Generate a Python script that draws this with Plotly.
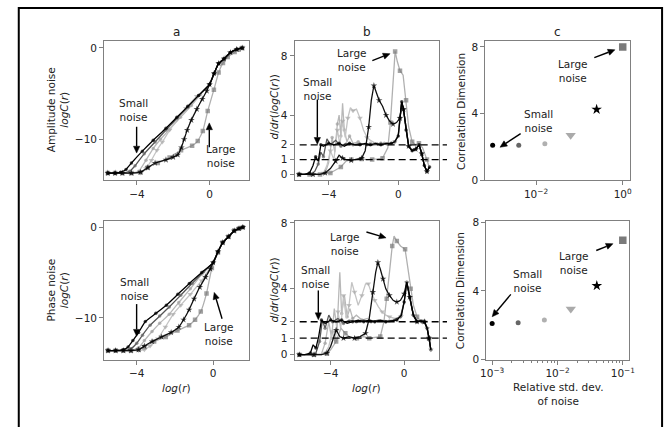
import math
import plotly.graph_objects as go

W, H = 672, 427

# ---------------- data ----------------
# Panel a, amplitude noise: log C(r) versus log(r)
AMP_A_COMMON_X = [0.0, 0.25, 0.5, 0.8, 1.15, 1.5, 1.8]
AMP_A_COMMON_Y = [-4.0, -2.8, -1.7, -1.2, -0.5, -0.15, 0.0]
AMP_A_S1_X = [-5.6, -5.2, -4.9, -4.6, -4.3, -3.7, -3.1, -2.4, -1.8, -1.2, -0.6]
AMP_A_S1_Y = [-13.7, -13.7, -13.6, -13.3, -12.6, -11.3, -10.1, -8.8, -7.6, -6.4, -5.2]
AMP_A_S2_X = [-5.6, -5.2, -4.8, -4.4, -4.1, -3.6, -3.0, -2.4, -1.8, -1.2, -0.6]
AMP_A_S2_Y = [-13.7, -13.7, -13.7, -13.5, -12.9, -11.6, -10.3, -9.0, -7.7, -6.5, -5.2]
AMP_A_S3_X = [-5.6, -5.2, -4.8, -4.4, -3.9, -3.5, -3.1, -2.7, -2.2, -1.6, -1.0, -0.5]
AMP_A_S3_Y = [-13.7, -13.7, -13.7, -13.7, -13.5, -12.3, -11.0, -10.0, -8.9, -7.6, -6.3, -5.1]
AMP_A_S4_X = [-5.6, -5.2, -4.8, -4.3, -3.8, -3.5, -3.2, -2.9, -2.6, -2.2, -1.8, -1.3, -0.7]
AMP_A_S4_Y = [-13.7, -13.7, -13.7, -13.7, -13.7, -13.2, -12.3, -11.2, -10.3, -9.0, -7.8, -6.6, -5.3]
AMP_A_S5_X = [-5.6, -5.2, -4.8, -4.3, -3.8, -3.4, -3.0, -2.4, -2.0, -1.75, -1.55, -1.4, -1.23,
              -1.0, -0.7, -0.4, -0.15]
AMP_A_S5_Y = [-13.7, -13.7, -13.7, -13.7, -13.6, -13.1, -12.6, -12.25, -11.95, -11.7, -10.9,
              -10.0, -9.0, -7.9, -6.7, -5.6, -4.7]
AMP_A_S6_X = [-5.6, -5.2, -4.8, -4.3, -3.8, -3.4, -2.85, -2.2, -1.57, -0.96, -0.65, -0.37, -0.1,
              0.24, 0.5, 0.74, 1.0, 1.38, 1.6, 1.8]
AMP_A_S6_Y = [-13.7, -13.7, -13.7, -13.7, -13.6, -13.1, -12.6, -12.0, -11.2, -10.7, -10.2, -9.1,
              -6.9, -4.57, -2.7, -1.64, -1.0, -0.46, -0.2, 0.0]

# Panel a, phase noise
PH_A_COMMON_X = [0.0, 0.25, 0.5, 0.8, 1.1, 1.35, 1.55]
PH_A_COMMON_Y = [-3.9, -2.7, -1.7, -1.05, -0.4, -0.15, 0.0]
PH_A_S1_X = [-5.5, -5.1, -4.7, -4.45, -4.2, -3.9, -3.55, -3.0, -2.45, -1.85, -1.25, -0.6]
PH_A_S1_Y = [-13.6, -13.6, -13.5, -13.2, -12.5, -11.6, -10.4, -9.5, -8.6, -7.4, -6.2, -5.0]
PH_A_S2_X = [-5.5, -5.1, -4.7, -4.3, -4.0, -3.7, -3.3, -2.8, -2.3, -1.7, -1.1, -0.5]
PH_A_S2_Y = [-13.6, -13.6, -13.6, -13.4, -12.8, -11.9, -10.8, -9.8, -8.8, -7.5, -6.2, -4.9]
PH_A_S3_X = [-5.5, -5.1, -4.7, -4.3, -3.9, -3.6, -3.2, -2.8, -2.3, -1.8, -1.2, -0.6]
PH_A_S3_Y = [-13.6, -13.6, -13.6, -13.6, -13.3, -12.5, -11.5, -10.6, -9.6, -8.3, -6.8, -5.2]
PH_A_S4_X = [-5.5, -5.1, -4.7, -4.3, -3.9, -3.6, -3.3, -2.9, -2.5, -2.1, -1.7, -1.2, -0.6]
PH_A_S4_Y = [-13.6, -13.6, -13.6, -13.6, -13.6, -13.5, -13.1, -12.3, -11.0, -9.6, -8.6, -7.4, -5.9]
PH_A_S5_X = [-5.5, -5.1, -4.7, -4.3, -3.9, -3.6, -3.2, -2.7, -2.2, -1.8, -1.55, -1.26, -1.0,
             -0.7, -0.4, -0.15]
PH_A_S5_Y = [-13.6, -13.6, -13.6, -13.6, -13.5, -13.1, -12.6, -12.1, -11.6, -11.0, -10.2, -9.1,
             -7.9, -6.6, -5.5, -4.6]
PH_A_S6_X = [-5.5, -5.1, -4.7, -4.3, -3.9, -3.6, -3.09, -2.48, -1.87, -1.26, -0.95, -0.65, -0.35,
             -0.07, 0.25, 0.49, 0.8, 1.1, 1.35, 1.55]
PH_A_S6_Y = [-13.6, -13.6, -13.6, -13.6, -13.5, -13.2, -12.6, -12.1, -11.4, -10.8, -10.2, -9.3,
             -7.3, -4.5, -2.8, -1.7, -1.05, -0.36, -0.15, 0.0]

# Panel b, amplitude noise: d/dr(log C(r))
AMP_B_TAIL_X = [0.1, 0.2, 0.3, 0.45, 0.6, 0.8, 1.0, 1.2, 1.35, 1.5, 1.65, 1.8]
AMP_B_TAIL_Y = [3.8, 4.9, 4.4, 3.0, 1.9, 1.6, 1.7, 2.0, 1.4, 0.6, 0.2, 0.5]
AMP_B_S1_X = [-5.7, -5.4, -5.1, -4.9, -4.75, -4.6, -4.45, -4.3, -4.0, -3.7, -3.4, -3.1, -2.8,
              -2.5, -2.2, -1.9, -1.6, -1.3, -1.0, -0.7, -0.4, -0.2, 0.0]
AMP_B_S1_Y = [0, 0, 0.1, 0.6, 1.2, 0.9, 2.0, 1.9, 2.1, 2.0, 2.1, 1.9, 2.1, 2.0, 2.0, 2.1, 2.0,
              2.1, 2.0, 2.1, 2.1, 2.2, 2.6]
AMP_B_S2_X = [-5.7, -5.3, -5.0, -4.8, -4.6, -4.45, -4.3, -4.1, -3.9, -3.6, -3.3, -3.0, -2.6,
              -2.2, -1.8, -1.4, -1.0, -0.6, -0.2, 0.0]
AMP_B_S2_Y = [0, 0, 0, 0.2, 0.7, 1.5, 1.2, 2.4, 2.0, 2.3, 1.9, 2.1, 2.0, 2.1, 2.0, 2.0, 2.1, 2.0,
              2.2, 2.6]
AMP_B_S3_X = [-5.7, -5.3, -4.9, -4.5, -4.2, -4.0, -3.8, -3.65, -3.5, -3.4, -3.3, -3.2, -3.1,
              -2.95, -2.8, -2.6, -2.3, -2.0, -1.6, -1.2, -0.8, -0.4, -0.2, 0.0]
AMP_B_S3_Y = [0, 0, 0, 0, 0.1, 0.8, 2.5, 1.5, 3.4, 4.0, 2.6, 4.8, 3.0, 2.2, 2.6, 2.1, 2.2, 2.0,
              2.1, 2.0, 2.1, 2.05, 2.2, 2.6]
AMP_B_S4_X = [-5.7, -5.3, -4.9, -4.5, -4.3, -4.1, -3.9, -3.7, -3.5, -3.35, -3.2, -3.05, -2.9,
              -2.75, -2.6, -2.4, -2.2, -2.0, -1.8, -1.6, -1.3, -1.0, -0.7, -0.4, -0.2, 0.0]
AMP_B_S4_Y = [0, 0, 0, 0, 0.1, 0.6, 1.6, 1.0, 3.0, 2.0, 3.6, 2.5, 3.8, 4.5, 4.3, 4.4, 3.8, 3.0,
              2.5, 2.3, 2.1, 2.05, 2.1, 2.1, 2.2, 2.7]
AMP_B_S5_X = [-5.7, -5.3, -4.9, -4.5, -4.2, -3.9, -3.6, -3.4, -3.2, -3.0, -2.7, -2.4, -2.1, -1.9,
              -1.7, -1.55, -1.4, -1.25, -1.1, -0.9, -0.7, -0.5, -0.3, -0.1]
AMP_B_S5_Y = [0, 0, 0, 0, 0.1, 0.4, 0.9, 1.3, 1.1, 1.0, 0.95, 1.0, 1.1, 1.6, 3.2, 5.0, 6.0, 5.5,
              5.0, 4.6, 4.0, 3.6, 3.4, 3.5]
AMP_B_S6_X = [-5.7, -5.4, -5.1, -4.8, -4.5, -4.2, -3.9, -3.6, -3.3, -3.0, -2.7, -2.4, -2.1, -1.8,
              -1.5, -1.2, -0.9, -0.6, -0.45, -0.3, -0.18, -0.05, 0.1, 0.28, 0.45, 0.6, 0.8, 1.0,
              1.19, 1.4, 1.65, 1.8]
AMP_B_S6_Y = [0, 0, 0, 0, 0, 0.05, 0.1, 0.3, 0.5, 0.9, 1.0, 1.0, 1.05, 1.0, 1.0, 1.05, 1.1, 1.8,
              3.5, 6.0, 8.3, 7.6, 7.0, 6.7, 5.0, 3.2, 2.2, 2.0, 2.1, 1.8, 1.0, 0.4]

# Panel b, phase noise
PH_B_TAIL_X = [0.14, 0.3, 0.5, 0.7, 0.9, 1.1, 1.25, 1.35, 1.45]
PH_B_TAIL_Y = [4.4, 3.5, 2.4, 2.0, 2.05, 2.0, 1.6, 1.0, 0.3]
PH_B_S1_X = [-5.7, -5.4, -5.1, -4.95, -4.8, -4.65, -4.5, -4.3, -4.0, -3.7, -3.4, -3.1, -2.8,
             -2.5, -2.2, -1.9, -1.6, -1.3, -1.0, -0.7, -0.4, -0.15, 0.0]
PH_B_S1_Y = [0, 0, 0.1, 0.6, 0.4, 1.1, 2.1, 1.9, 2.1, 2.0, 2.1, 1.9, 2.0, 2.1, 2.0, 2.1, 2.0,
             2.1, 2.0, 2.05, 2.1, 2.4, 3.2]
PH_B_S2_X = [-5.7, -5.3, -5.0, -4.8, -4.6, -4.45, -4.3, -4.1, -3.9, -3.6, -3.3, -3.0, -2.6,
             -2.2, -1.8, -1.4, -1.0, -0.6, -0.2, 0.0]
PH_B_S2_Y = [0, 0, 0, 0.1, 0.8, 2.1, 1.6, 2.4, 2.0, 2.2, 1.9, 2.1, 2.0, 2.1, 2.0, 2.1, 2.0, 2.1,
             2.3, 3.2]
PH_B_S3_X = [-5.7, -5.3, -4.9, -4.5, -4.3, -4.1, -3.95, -3.8, -3.65, -3.5, -3.4, -3.25, -3.1,
             -2.95, -2.8, -2.6, -2.3, -2.0, -1.6, -1.2, -0.8, -0.4, -0.15, 0.0]
PH_B_S3_Y = [0, 0, 0, 0.05, 0.7, 2.0, 1.0, 2.8, 1.5, 5.0, 2.5, 3.6, 2.3, 2.8, 2.2, 2.4, 2.1, 2.2,
             2.0, 2.1, 2.05, 2.1, 2.4, 3.2]
PH_B_S4_X = [-5.7, -5.3, -4.9, -4.5, -4.3, -4.1, -3.9, -3.75, -3.6, -3.45, -3.3, -3.15, -3.0,
             -2.85, -2.7, -2.5, -2.3, -2.1, -1.95, -1.8, -1.6, -1.4, -1.2, -1.0, -0.8, -0.5,
             -0.2, 0.0]
PH_B_S4_Y = [0, 0, 0, 0, 0.1, 0.5, 1.4, 0.8, 2.6, 1.6, 3.6, 2.2, 3.0, 4.4, 3.8, 3.0, 3.6, 4.3,
             4.3, 3.8, 3.3, 2.9, 2.6, 2.4, 2.3, 2.2, 2.3, 3.2]
PH_B_S5_X = [-5.7, -5.3, -4.9, -4.5, -4.2, -4.0, -3.7, -3.5, -3.3, -3.0, -2.7, -2.4, -2.1, -1.9,
             -1.7, -1.55, -1.43, -1.3, -1.15, -1.0, -0.8, -0.6, -0.4, -0.2, 0.0]
PH_B_S5_Y = [0, 0, 0, 0, 0.1, 0.5, 1.5, 1.1, 1.0, 1.1, 1.0, 1.1, 1.3, 2.2, 3.8, 5.0, 5.6, 5.2,
             4.6, 4.0, 3.6, 3.3, 3.2, 3.3, 3.7]
PH_B_S6_X = [-5.7, -5.3, -4.9, -4.5, -4.2, -4.0, -3.7, -3.44, -3.2, -2.9, -2.57, -2.2, -1.9,
             -1.6, -1.3, -1.1, -0.95, -0.8, -0.65, -0.55, -0.4, -0.2, 0.05, 0.2, 0.35, 0.5,
             0.7, 0.84, 1.05, 1.25, 1.35, 1.45]
PH_B_S6_Y = [0, 0, 0, 0, 0.05, 0.3, 0.8, 1.6, 1.3, 1.0, 1.0, 1.1, 1.0, 1.05, 1.1, 2.0, 3.4, 5.0,
             6.6, 7.2, 6.9, 6.6, 6.4, 5.2, 4.0, 3.0, 2.3, 2.1, 2.0, 1.7, 1.0, 0.3]

# Panel c: correlation dimension versus relative noise level
C_AMP_NOISE = [0.001, 0.004, 0.016, 0.063, 0.25, 1.0]
C_AMP_DIM = [2.1, 2.1, 2.2, 2.7, 4.25, 8.0]
C_PH_NOISE = [0.001, 0.0025, 0.0063, 0.016, 0.04, 0.1]
C_PH_DIM = [2.1, 2.15, 2.3, 2.95, 4.3, 6.95]

# Reference levels in panel b
B_LEVELS = [1, 2]

# ---------------- styles ----------------
STYLES = [
    dict(sym="circle", mcol="#000000", lcol="#000000", ms=3.5, cs=5),
    dict(sym="circle", mcol="#666666", lcol="#555555", ms=3.5, cs=5),
    dict(sym="circle", mcol="#a0a0a0", lcol="#b8b8b8", ms=3.5, cs=5),
    dict(sym="triangle-down", mcol="#aaaaaa", lcol="#c4c4c4", ms=5, cs=9),
    dict(sym="star", mcol="#000000", lcol="#111111", ms=5, cs=8),
    dict(sym="square", mcol="#7a7a7a", lcol="#b0b0b0", ms=4.5, cs=7.5),
]
DRAW_ORDER = [2, 3, 5, 1, 4, 0]

FONT = "DejaVu Sans"
TXT = "#222222"
SPINE = "#808080"


def P(x, y):
    return x / W, 1 - y / H


fig = go.Figure()

amp_a = [(AMP_A_S1_X + AMP_A_COMMON_X, AMP_A_S1_Y + AMP_A_COMMON_Y),
         (AMP_A_S2_X + AMP_A_COMMON_X, AMP_A_S2_Y + AMP_A_COMMON_Y),
         (AMP_A_S3_X + AMP_A_COMMON_X, AMP_A_S3_Y + AMP_A_COMMON_Y),
         (AMP_A_S4_X + AMP_A_COMMON_X, AMP_A_S4_Y + AMP_A_COMMON_Y),
         (AMP_A_S5_X + AMP_A_COMMON_X, AMP_A_S5_Y + AMP_A_COMMON_Y),
         (AMP_A_S6_X, AMP_A_S6_Y)]
ph_a = [(PH_A_S1_X + PH_A_COMMON_X, PH_A_S1_Y + PH_A_COMMON_Y),
        (PH_A_S2_X + PH_A_COMMON_X, PH_A_S2_Y + PH_A_COMMON_Y),
        (PH_A_S3_X + PH_A_COMMON_X, PH_A_S3_Y + PH_A_COMMON_Y),
        (PH_A_S4_X + PH_A_COMMON_X, PH_A_S4_Y + PH_A_COMMON_Y),
        (PH_A_S5_X + PH_A_COMMON_X, PH_A_S5_Y + PH_A_COMMON_Y),
        (PH_A_S6_X, PH_A_S6_Y)]
amp_b = [(AMP_B_S1_X + AMP_B_TAIL_X, AMP_B_S1_Y + AMP_B_TAIL_Y),
         (AMP_B_S2_X + AMP_B_TAIL_X, AMP_B_S2_Y + AMP_B_TAIL_Y),
         (AMP_B_S3_X + AMP_B_TAIL_X, AMP_B_S3_Y + AMP_B_TAIL_Y),
         (AMP_B_S4_X + AMP_B_TAIL_X, AMP_B_S4_Y + AMP_B_TAIL_Y),
         (AMP_B_S5_X + AMP_B_TAIL_X, AMP_B_S5_Y + AMP_B_TAIL_Y),
         (AMP_B_S6_X, AMP_B_S6_Y)]
ph_b = [(PH_B_S1_X + PH_B_TAIL_X, PH_B_S1_Y + PH_B_TAIL_Y),
        (PH_B_S2_X + PH_B_TAIL_X, PH_B_S2_Y + PH_B_TAIL_Y),
        (PH_B_S3_X + PH_B_TAIL_X, PH_B_S3_Y + PH_B_TAIL_Y),
        (PH_B_S4_X + PH_B_TAIL_X, PH_B_S4_Y + PH_B_TAIL_Y),
        (PH_B_S5_X + PH_B_TAIL_X, PH_B_S5_Y + PH_B_TAIL_Y),
        (PH_B_S6_X, PH_B_S6_Y)]


def add_curves(series, xa, ya, every, shape):
    for k in DRAW_ORDER:
        xs, ys = series[k]
        st = STYLES[k]
        sizes = [st["ms"] if i % every == 0 else 0 for i in range(len(xs))]
        fig.add_trace(go.Scatter(
            x=xs, y=ys, xaxis=xa, yaxis=ya, mode="lines+markers",
            line=dict(color=st["lcol"], width=1.3, shape=shape, smoothing=0.4),
            marker=dict(symbol=st["sym"], color=st["mcol"], size=sizes, line=dict(width=0)),
            showlegend=False, hoverinfo="skip"))


add_curves(amp_a, "x", "y", 1, "spline")
add_curves(amp_b, "x2", "y2", 2, "linear")
add_curves(ph_a, "x4", "y4", 1, "spline")
add_curves(ph_b, "x5", "y5", 2, "linear")

for (noise, dim, xa, ya) in [(C_AMP_NOISE, C_AMP_DIM, "x3", "y3"), (C_PH_NOISE, C_PH_DIM, "x6", "y6")]:
    for k in range(6):
        st = STYLES[k]
        fig.add_trace(go.Scatter(
            x=[noise[k]], y=[dim[k]], xaxis=xa, yaxis=ya, mode="markers",
            marker=dict(symbol=st["sym"], color=st["mcol"] if k != 2 else "#b0b0b0",
                        size=st["cs"], line=dict(width=0)),
            showlegend=False, hoverinfo="skip"))

# ---------------- axes ----------------
COLX = [(100, 247), (294, 441), (488, 635)]
ROWY = [(37, 180), (222, 364)]


def dom_x(c):
    return [COLX[c][0] / W, COLX[c][1] / W]


def dom_y(r):
    return [1 - ROWY[r][1] / H, 1 - ROWY[r][0] / H]


axis_common = dict(showline=True, mirror=True, linecolor=SPINE, linewidth=1.2, ticks="outside",
                   ticklen=4, tickwidth=1, tickcolor=SPINE, showgrid=False, zeroline=False,
                   tickfont=dict(family=FONT, size=10.5, color=TXT))

sup = "10<sup>%s</sup>"
lay = {}
specs = [
    # (index, col, row, xrange, yrange, xticks, yticks)
    (1, 0, 0, [-5.8, 2.15], [-14.5, 0.75], [-4, 0], [0, -10]),
    (2, 1, 0, [-5.95, 2.35], [-0.4, 9.0], [-4, 0], [0, 1, 2, 4, 8]),
    (4, 0, 1, [-5.7, 1.85], [-14.6, 0.65], [-4, 0], [0, -10]),
    (5, 1, 1, [-5.95, 1.9], [-0.3, 8.1], [-4, 0], [0, 1, 2, 4, 8]),
]
for idx, c, r, xr, yr, xt, yt in specs:
    s = "" if idx == 1 else str(idx)
    lay["xaxis" + s] = dict(axis_common, domain=dom_x(c), range=xr, anchor="y" + s,
                            tickmode="array", tickvals=xt,
                            ticktext=[("\u2212%g" % -v) if v < 0 else "%g" % v for v in xt])
    lay["yaxis" + s] = dict(axis_common, domain=dom_y(r), range=yr, anchor="x" + s,
                            tickmode="array", tickvals=yt,
                            ticktext=[("\u2212%g" % -v) if v < 0 else "%g" % v for v in yt])

lay["xaxis3"] = dict(axis_common, domain=dom_x(2), type="log", range=[-3.17, 0.16], anchor="y3",
                     tickmode="array", tickvals=[0.01, 1],
                     ticktext=[sup % "\u22122", sup % "0"])
lay["yaxis3"] = dict(axis_common, domain=dom_y(0), range=[0, 8.35], anchor="x3",
                     tickmode="array", tickvals=[0, 4, 8])
minor_vals = [m * 10 ** e for e in (-3, -2) for m in range(2, 10)]
lay["xaxis6"] = dict(axis_common, domain=[489 / W, 634 / W], type="log", range=[-3.09, -0.91],
                     anchor="y6", tickmode="array", tickvals=[0.001, 0.01, 0.1],
                     ticktext=[sup % "\u22123", sup % "\u22122", sup % "\u22121"],
                     minor=dict(tickmode="array", tickvals=minor_vals, ticks="outside", ticklen=2,
                                tickcolor=SPINE, showgrid=False))
lay["yaxis6"] = dict(axis_common, domain=dom_y(1), range=[0, 8.05], anchor="x6",
                     tickmode="array", tickvals=[0, 4, 8])

# ---------------- annotations ----------------
ann = []
shapes = []


def text(px_, py_, t, size=10.5, angle=0):
    x, y = P(px_, py_)
    ann.append(dict(x=x, y=y, xref="paper", yref="paper", text=t, showarrow=False,
                    textangle=angle, xanchor="center", yanchor="middle", align="center",
                    font=dict(family=FONT, size=size, color=TXT)))


def arrow(head, tail, hl=7.0, hw=3.2):
    dx, dy = head[0] - tail[0], head[1] - tail[1]
    L = math.hypot(dx, dy)
    ux, uy = dx / L, dy / L
    bx, by = head[0] - ux * hl, head[1] - uy * hl
    x0, y0 = P(*tail)
    x1, y1 = P(bx, by)
    shapes.append(dict(type="line", xref="paper", yref="paper", x0=x0, y0=y0, x1=x1, y1=y1,
                       line=dict(color="#000000", width=1.4)))
    pts = [head, (bx - uy * hw, by + ux * hw), (bx + uy * hw, by - ux * hw)]
    path = "M " + " L ".join("%.5f,%.5f" % P(*p) for p in pts) + " Z"
    shapes.append(dict(type="path", xref="paper", yref="paper", path=path,
                       fillcolor="#000000", line=dict(color="#000000", width=0.5)))


# panel titles
text(173.5, 28, "a", 12)
text(367.5, 28, "b", 12)
text(561.5, 28, "c", 12)

# axis labels
text(53, 108, "Amplitude noise<br><i>logC</i>(<i>r</i>)", 10.5, -90)
text(53, 293, "Phase noise<br><i>logC</i>(<i>r</i>)", 10.5, -90)
text(273, 105, "<i>d</i>/<i>dr</i>(<i>logC</i>(<i>r</i>))", 10.5, -90)
text(273, 293, "<i>d</i>/<i>dr</i>(<i>logC</i>(<i>r</i>))", 10.5, -90)
text(463, 109, "Correlation Dimension", 10.5, -90)
text(463, 293, "Correlation Dimension", 10.5, -90)
text(173.5, 393, "<i>log</i>(<i>r</i>)")
text(367.5, 393, "<i>log</i>(<i>r</i>)")
text(562, 399, "Relative std. dev.<br>of noise")

# noise annotations
for (tx, ty, t) in [(130, 108, "Small<br>noise"), (219, 155, "Large<br>noise"),
                    (317, 86, "Small<br>noise"), (352, 56, "Large<br>noise"),
                    (542, 119, "Small<br>noise"), (577, 68, "Large<br>noise"),
                    (131, 291, "Small<br>noise"), (217, 338, "Large<br>noise"),
                    (315, 279, "Small<br>noise"), (345, 245, "Large<br>noise"),
                    (531, 283, "Small<br>noise"), (578, 265, "Large<br>noise")]:
    text(tx, ty, t, 10.5)

for head, tail in [((133, 152), (133, 125)), ((207, 121), (207, 146)),
                   ((317, 143), (317, 97)), ((391, 50), (373, 57)),
                   ((503, 146), (524, 132)), ((620, 46), (599, 54)),
                   ((133, 340), (133, 307)), ((212, 295), (220, 322)),
                   ((318, 323), (318, 293)), ((387, 239), (367, 233)),
                   ((495, 320), (514, 297)), ((618, 245), (601, 252))]:
    arrow(head, tail)

# ---------------- shapes ----------------
for yref in ("y2", "y5"):
    for lv in B_LEVELS:
        shapes.append(dict(type="line", xref="paper", yref=yref, x0=299 / W, x1=449 / W,
                           y0=lv, y1=lv, line=dict(color="#000000", width=1.3, dash="7px,4px")))
# outer frame
shapes.append(dict(type="rect", xref="paper", yref="paper", x0=13 / W, x1=668 / W,
                   y0=1 - 445 / H, y1=1 - 3 / H, line=dict(color="#000000", width=2),
                   fillcolor="rgba(0,0,0,0)"))

fig.update_layout(width=W, height=H, margin=dict(l=0, r=0, t=0, b=0),
                  paper_bgcolor="white", plot_bgcolor="white",
                  font=dict(family=FONT, color=TXT), showlegend=False,
                  annotations=ann, shapes=shapes, **lay)

fig.write_html("out.html", config={"displayModeBar": False},
               post_script="document.body.style.margin='0';document.body.style.overflow='hidden';")
